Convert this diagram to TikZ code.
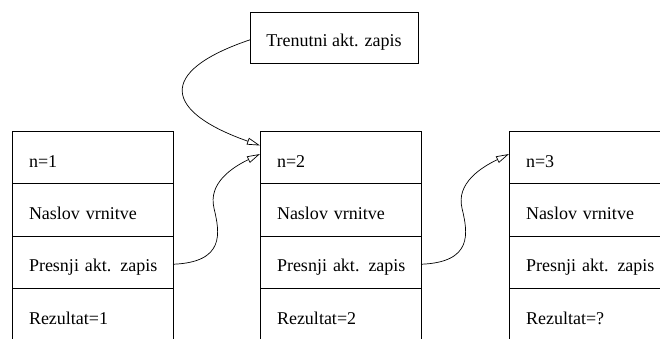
\documentclass[tikz,border=0pt]{standalone}
\usepackage{fontspec}
\setmainfont{Liberation Serif}
\newfontfamily\recfont{Liberation Serif}
\usetikzlibrary{arrows.meta,calc}
\begin{document}
\begin{tikzpicture}[x=1pt,y=-1pt,
  cell/.style={draw,line width=0.8pt,rectangle,outer sep=0pt,
    minimum height=52.3pt,text width=127pt,inner xsep=17pt,inner ysep=0pt,
    align=left,text height=19pt,text depth=0pt,
    font=\recfont\fontsize{18}{21}\selectfont,anchor=north west,
    execute at begin node={\hbox\bgroup},execute at end node={\egroup}},
  current/.style={draw,line width=0.8pt,rectangle,outer sep=0pt,
    minimum width=168pt,minimum height=51pt,inner sep=0pt,
    text height=18pt,text depth=0pt,font=\recfont\fontsize{18}{21}\selectfont},
  link/.style={line width=0.7pt,-{Triangle[open,length=13pt,width=7pt]}}]
\useasboundingbox (0,0) rectangle (660,339);

% pointer to the current activation record
\node[current] (t) at (334,37.8) {Trenutni akt. zapis};

% activation record for n=1
\node[cell] (a1) at (12,131.5) {n=1};
\node[cell] (a2) at (a1.south west) {Naslov vrnitve};
\node[cell] (a3) at (a2.south west) {Presnji akt. zapis};
\node[cell] (a4) at (a3.south west) {Rezultat=1};

% activation record for n=2
\node[cell] (b1) at (260,131.5) {n=2};
\node[cell] (b2) at (b1.south west) {Naslov vrnitve};
\node[cell] (b3) at (b2.south west) {Presnji akt. zapis};
\node[cell] (b4) at (b3.south west) {Rezultat=2};

% activation record for n=3
\node[cell] (c1) at (509,131.5) {n=3};
\node[cell] (c2) at (c1.south west) {Naslov vrnitve};
\node[cell] (c3) at (c2.south west) {Presnji akt. zapis};
\node[cell] (c4) at (c3.south west) {Rezultat=?};

% links
\draw[link] ($(t.west)+(0,2)$) .. controls (155,72) and (165,112) .. ($(b1.north west)+(0,14)$);
\draw[link] ($(a3.east)+(0,2)$) .. controls +(52,-2) and +(6,25) .. ++(41,-56)
  .. controls +(-6,-25) and +(-28,13.5) .. ($(b1.north west)+(0,22.5)$);
\draw[link] ($(b3.east)+(0,2)$) .. controls +(52,-2) and +(6,25) .. ++(41,-56)
  .. controls +(-6,-25) and +(-28,13.5) .. ($(c1.north west)+(0,22.5)$);
\end{tikzpicture}
\end{document}
